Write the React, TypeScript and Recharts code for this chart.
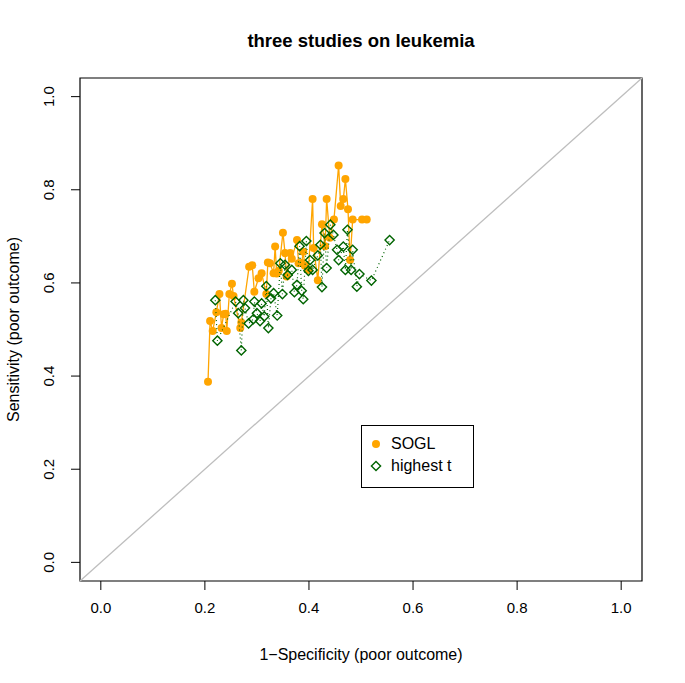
import React from "react";
import { ScatterChart, Scatter, XAxis, YAxis, ReferenceLine, ReferenceArea } from "recharts";

// 1-specificity / sensitivity pairs
const soglFpr = [
  0.206, 0.21, 0.215, 0.222, 0.228, 0.232, 0.236, 0.24, 0.242, 0.247, 0.252, 0.255, 0.268, 0.27,
  0.285, 0.291, 0.295, 0.303, 0.309, 0.318, 0.321, 0.325, 0.332, 0.335, 0.338, 0.342, 0.35, 0.354,
  0.357, 0.364, 0.367, 0.377, 0.38, 0.386, 0.389, 0.392, 0.399, 0.407, 0.409, 0.417, 0.425, 0.431,
  0.434, 0.44, 0.448, 0.457, 0.461, 0.466, 0.47, 0.475, 0.479, 0.484, 0.502, 0.511,
];
const soglTpr = [
  0.388, 0.518, 0.497, 0.537, 0.576, 0.503, 0.533, 0.534, 0.497, 0.576, 0.598, 0.572, 0.503, 0.515,
  0.635, 0.638, 0.581, 0.61, 0.621, 0.576, 0.644, 0.642, 0.621, 0.678, 0.62, 0.626, 0.708, 0.664,
  0.614, 0.664, 0.652, 0.692, 0.642, 0.643, 0.667, 0.637, 0.628, 0.78, 0.675, 0.606, 0.726, 0.679,
  0.78, 0.697, 0.736, 0.852, 0.765, 0.78, 0.823, 0.758, 0.649, 0.736, 0.736, 0.736,
];

const highestTFpr = [
  0.22, 0.224, 0.259, 0.264, 0.27, 0.274, 0.277, 0.284, 0.293, 0.295, 0.3, 0.306, 0.309, 0.314,
  0.318, 0.322, 0.327, 0.332, 0.339, 0.345, 0.349, 0.354, 0.359, 0.367, 0.372, 0.377, 0.382, 0.386,
  0.389, 0.395, 0.399, 0.402, 0.407, 0.417, 0.422, 0.425, 0.43, 0.434, 0.441, 0.447, 0.454, 0.457,
  0.466, 0.47, 0.474, 0.481, 0.484, 0.492, 0.497, 0.52, 0.555,
];
const highestTTpr = [
  0.563, 0.476, 0.56, 0.535, 0.455, 0.563, 0.546, 0.513, 0.522, 0.56, 0.535, 0.518, 0.556, 0.528,
  0.593, 0.503, 0.567, 0.578, 0.53, 0.642, 0.576, 0.639, 0.617, 0.628, 0.58, 0.596, 0.679, 0.583,
  0.565, 0.69, 0.626, 0.649, 0.628, 0.659, 0.682, 0.591, 0.707, 0.632, 0.725, 0.703, 0.671, 0.649,
  0.678, 0.628, 0.714, 0.628, 0.671, 0.592, 0.619, 0.605, 0.692,
];

const axisTicks = [0, 0.2, 0.4, 0.6, 0.8, 1];
const axisDomain: [number, number] = [-0.04, 1.04];

const SOGL_COLOR = "#FFA500";
const HIGHEST_T_COLOR = "#006400";
const FONT = "'Liberation Sans', Arial, Helvetica, sans-serif";

const W = 685;
const H = 683;
const PLOT_LEFT = 80;
const PLOT_TOP = 78;
const PLOT_RIGHT = 642;
const PLOT_BOTTOM = 581;
const TICK = 9;

const soglData = soglFpr.map((x, i) => ({ x, y: soglTpr[i] }));
const highestTData = highestTFpr.map((x, i) => ({ x, y: highestTTpr[i] }));

const Dot = (p: any) => <circle cx={p.cx} cy={p.cy} r={4} fill={SOGL_COLOR} />;

const Diamond = (p: any) => {
  const s = 4.6;
  return (
    <polygon
      points={`${p.cx},${p.cy - s} ${p.cx + s},${p.cy} ${p.cx},${p.cy + s} ${p.cx - s},${p.cy}`}
      fill="none"
      stroke={HIGHEST_T_COLOR}
      strokeWidth={1.4}
    />
  );
};

const XTick = (p: any) => (
  <text x={p.x} y={p.y + 23} textAnchor="middle" fontSize={15} fontFamily={FONT} fill="#000">
    {Number(p.payload.value).toFixed(1)}
  </text>
);

const YTick = (p: any) => {
  const bx = p.x - 17;
  return (
    <text
      x={bx}
      y={p.y}
      transform={`rotate(-90, ${bx}, ${p.y})`}
      textAnchor="middle"
      fontSize={15}
      fontFamily={FONT}
      fill="#000"
    >
      {Number(p.payload.value).toFixed(1)}
    </text>
  );
};

const series = [
  { name: "SOGL", color: SOGL_COLOR, kind: "dot" },
  { name: "highest t", color: HIGHEST_T_COLOR, kind: "diamond" },
];

function LegendBox() {
  return (
    <div
      style={{
        position: "absolute",
        left: 361,
        top: 425,
        width: 111,
        height: 61,
        border: "1px solid #000",
        background: "#fff",
        fontFamily: FONT,
        fontSize: 16,
      }}
    >
      {series.map((s, i) => (
        <div
          key={s.name}
          style={{ position: "absolute", left: 0, top: 8 + i * 22, height: 20, display: "flex", alignItems: "center" }}
        >
          <svg width={28} height={20}>
            {s.kind === "dot" ? (
              <circle cx={14} cy={10} r={4} fill={s.color} />
            ) : (
              <polygon points="14,5.4 18.6,10 14,14.6 9.4,10" fill="none" stroke={s.color} strokeWidth={1.4} />
            )}
          </svg>
          <span style={{ marginLeft: 1 }}>{s.name}</span>
        </div>
      ))}
    </div>
  );
}

export default function App() {
  return (
    <div style={{ position: "absolute", left: 0, top: 0, width: W, height: H, background: "#fff" }}>
      <div
        style={{
          position: "absolute",
          left: PLOT_LEFT,
          width: PLOT_RIGHT - PLOT_LEFT,
          top: 30,
          textAlign: "center",
          fontFamily: FONT,
          fontWeight: "bold",
          fontSize: 18.5,
        }}
      >
        three studies on leukemia
      </div>
      <ScatterChart
        width={W}
        height={H}
        margin={{ top: PLOT_TOP, right: W - PLOT_RIGHT, bottom: 0, left: 0 }}
      >
        <XAxis
          type="number"
          dataKey="x"
          domain={axisDomain}
          ticks={axisTicks}
          allowDataOverflow
          height={H - PLOT_BOTTOM}
          axisLine={false}
          tickSize={TICK}
          tickMargin={0}
          tickLine={{ stroke: "#000" }}
          tick={<XTick />}
          interval={0}
          label={{
            content: () => (
              <text
                x={(PLOT_LEFT + PLOT_RIGHT) / 2}
                y={660}
                textAnchor="middle"
                fontSize={16}
                fontFamily={FONT}
                fill="#000"
              >
                1−Specificity (poor outcome)
              </text>
            ),
          }}
        />
        <YAxis
          type="number"
          dataKey="y"
          domain={axisDomain}
          ticks={axisTicks}
          allowDataOverflow
          width={PLOT_LEFT}
          axisLine={false}
          tickSize={TICK}
          tickMargin={0}
          tickLine={{ stroke: "#000" }}
          tick={<YTick />}
          interval={0}
          label={{
            content: () => {
              const cx = 19;
              const cy = (PLOT_TOP + PLOT_BOTTOM) / 2;
              return (
                <text
                  x={cx}
                  y={cy}
                  transform={`rotate(-90, ${cx}, ${cy})`}
                  textAnchor="middle"
                  fontSize={16}
                  fontFamily={FONT}
                  fill="#000"
                >
                  Sensitivity (poor outcome)
                </text>
              );
            },
          }}
        />
        <ReferenceLine
          segment={[
            { x: axisDomain[0], y: axisDomain[0] },
            { x: axisDomain[1], y: axisDomain[1] },
          ]}
          stroke="#BEBEBE"
          strokeWidth={1.3}
          ifOverflow="visible"
        />
        <Scatter
          name="SOGL"
          data={soglData}
          fill={SOGL_COLOR}
          line={{ stroke: SOGL_COLOR, strokeWidth: 1.3 }}
          shape={Dot}
          isAnimationActive={false}
        />
        <Scatter
          name="highest t"
          data={highestTData}
          fill={HIGHEST_T_COLOR}
          line={{ stroke: HIGHEST_T_COLOR, strokeWidth: 1.2, strokeDasharray: "1 3" }}
          shape={Diamond}
          isAnimationActive={false}
        />
        <ReferenceArea
          x1={axisDomain[0]}
          x2={axisDomain[1]}
          y1={axisDomain[0]}
          y2={axisDomain[1]}
          fill="none"
          stroke="#000"
          strokeWidth={1.2}
          ifOverflow="visible"
        />
      </ScatterChart>
      <LegendBox />
    </div>
  );
}
